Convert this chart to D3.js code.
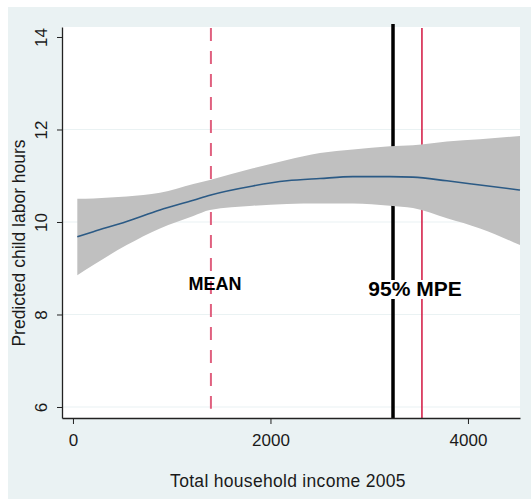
<!DOCTYPE html>
<html>
<head>
<meta charset="utf-8">
<script src="https://cdn.jsdelivr.net/npm/d3@7"></script>
<style>
  html, body { margin: 0; padding: 0; background: #ffffff; }
  svg { display: block; font-family: "Liberation Sans", Arial, sans-serif; }
</style>
</head>
<body>
<div id="chart"></div>
<script>
// ---- data ----
const income    = [44, 206, 544, 881, 1219, 1387, 1823, 2167, 2501, 2835, 3210, 3443, 3787, 4122, 4527];
const predicted = [9.68, 9.79, 10.01, 10.26, 10.47, 10.58, 10.78, 10.89, 10.94, 10.98, 10.98, 10.97, 10.89, 10.80, 10.69];
const upperCI   = [10.50, 10.51, 10.55, 10.63, 10.82, 10.91, 11.16, 11.34, 11.49, 11.57, 11.64, 11.66, 11.74, 11.79, 11.86];
const lowerCI   = [8.85, 9.07, 9.50, 9.86, 10.13, 10.26, 10.35, 10.39, 10.40, 10.40, 10.35, 10.30, 10.08, 9.86, 9.50];
const xTicks = [0, 2000, 4000];
const yTicks = [6, 8, 10, 12, 14];
const yGrid  = [6, 8, 10, 12];
const meanIncome = 1397;
const mpeLow  = 3241;   // black vertical line
const mpeHigh = 3534;   // red vertical line
const xDomain = [-111, 4527];
const yDomain = [5.762, 14.216];
const labels = { x: "Total household income 2005", y: "Predicted child labor hours", mean: "MEAN", mpe: "95% MPE" };

// ---- layout ----
const W = 531, H = 499;
const plot = { left: 62, right: 520, top: 27, bottom: 418 };

const svg = d3.select("#chart").append("svg").attr("width", W).attr("height", H);

// outer graph region
svg.append("rect").attr("x", 8).attr("y", 7).attr("width", W - 8).attr("height", H - 7).attr("fill", "#eaf2f3");
// plot region
svg.append("rect").attr("x", plot.left).attr("y", plot.top)
  .attr("width", plot.right - plot.left).attr("height", plot.bottom - plot.top).attr("fill", "#ffffff");

const x = d3.scaleLinear().domain(xDomain).range([plot.left, plot.right]);
const y = d3.scaleLinear().domain(yDomain).range([plot.bottom, plot.top]);

// gridlines
svg.append("g").selectAll("line").data(yGrid).join("line")
  .attr("x1", plot.left).attr("x2", plot.right)
  .attr("y1", d => y(d)).attr("y2", d => y(d))
  .attr("stroke", "#eaf2f3").attr("stroke-width", 1.2);

// vertical reference lines (beneath the band)
svg.append("line").attr("x1", x(meanIncome)).attr("x2", x(meanIncome))
  .attr("y1", plot.top + 1).attr("y2", y(5.96))
  .attr("stroke", "#e0607f").attr("stroke-width", 2).attr("stroke-dasharray", "13,10");
svg.append("line").attr("x1", x(mpeLow)).attr("x2", x(mpeLow))
  .attr("y1", plot.top - 3).attr("y2", plot.bottom)
  .attr("stroke", "#000000").attr("stroke-width", 3.5);
svg.append("line").attr("x1", x(mpeHigh)).attr("x2", x(mpeHigh))
  .attr("y1", plot.top + 1).attr("y2", plot.bottom)
  .attr("stroke", "#d2143f").attr("stroke-width", 1.5);

// confidence band
const rows = income.map((v, i) => ({ x: v, p: predicted[i], lo: lowerCI[i], hi: upperCI[i] }));
svg.append("path").datum(rows)
  .attr("d", d3.area().x(d => x(d.x)).y0(d => y(d.lo)).y1(d => y(d.hi)).curve(d3.curveMonotoneX))
  .attr("fill", "#c0c0c0");
// fitted line
svg.append("path").datum(rows)
  .attr("d", d3.line().x(d => x(d.x)).y(d => y(d.p)).curve(d3.curveMonotoneX))
  .attr("fill", "none").attr("stroke", "#2b5a85").attr("stroke-width", 1.6);

// axes
const yAxis = svg.append("g").attr("transform", `translate(${plot.left},0)`)
  .call(d3.axisLeft(y).tickValues(yTicks).tickSize(5).tickSizeOuter(0).tickFormat(d3.format("d")));
yAxis.select(".domain").attr("stroke", "#222").attr("stroke-width", 1.3);
yAxis.selectAll(".tick line").attr("stroke", "#222");
yAxis.selectAll(".tick text")
  .attr("x", null).attr("dy", null)
  .attr("transform", "translate(-15,0) rotate(-90)")
  .attr("text-anchor", "middle")
  .attr("font-size", 17).attr("fill", "#1a1a1a");

const xAxis = svg.append("g").attr("transform", `translate(0,${plot.bottom})`)
  .call(d3.axisBottom(x).tickValues(xTicks).tickSize(6).tickSizeOuter(0).tickFormat(d3.format("d")));
xAxis.select(".domain").attr("stroke", "#222").attr("stroke-width", 1.3);
xAxis.selectAll(".tick line").attr("stroke", "#222");
xAxis.selectAll(".tick text").attr("y", 28).attr("dy", null)
  .attr("font-size", 17).attr("fill", "#1a1a1a");

// axis titles
svg.append("text").attr("x", 288).attr("y", 487).attr("text-anchor", "middle")
  .attr("font-size", 17.5).attr("letter-spacing", 0.3).attr("fill", "#1a1a1a").text(labels.x);
svg.append("text").attr("transform", "translate(25,243) rotate(-90)").attr("text-anchor", "middle")
  .attr("font-size", 17.5).attr("fill", "#1a1a1a").text(labels.y);

// annotations
svg.append("text").attr("x", x(meanIncome) + 4).attr("y", 290).attr("text-anchor", "middle")
  .attr("font-size", 18).attr("font-weight", "bold").attr("fill", "#000").text(labels.mean);

const mpeG = svg.append("g");
const mpeText = mpeG.append("text").attr("x", 415).attr("y", 296).attr("text-anchor", "middle")
  .attr("font-size", 21).attr("font-weight", "bold").attr("fill", "#000").text(labels.mpe);
const bb = mpeText.node().getBBox();
mpeG.insert("rect", "text").attr("x", bb.x - 1).attr("y", bb.y + 3)
  .attr("width", bb.width + 2).attr("height", bb.height - 4).attr("fill", "#ffffff");
</script>
</body>
</html>
